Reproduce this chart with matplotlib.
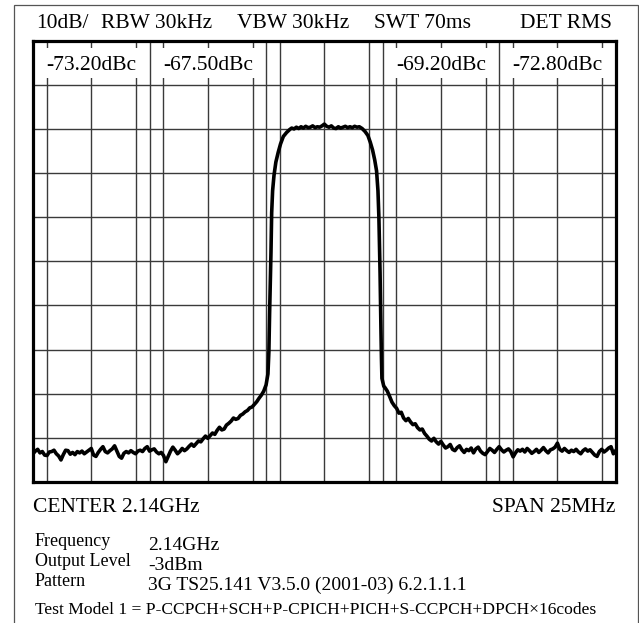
import matplotlib.pyplot as plt
from matplotlib.patches import Rectangle

W, H = 639, 623

# trace: frequency offset from 2.14 GHz (MHz) and level (dB below the top line)
freq = [-12.5, -12.4, -12.3, -12.2, -12.1, -12.0, -11.9, -11.8, -11.7, -11.6,
        -11.5, -11.4, -11.3, -11.2, -11.1, -11.0, -10.9, -10.8, -10.7, -10.6,
        -10.5, -10.4, -10.3, -10.2, -10.1, -10.0, -9.9, -9.8, -9.7, -9.6,
        -9.5, -9.4, -9.3, -9.2, -9.1, -9.0, -8.9, -8.8, -8.7, -8.6,
        -8.5, -8.4, -8.3, -8.2, -8.1, -8.0, -7.9, -7.8, -7.7, -7.6,
        -7.5, -7.4, -7.3, -7.2, -7.1, -7.0, -6.9, -6.8, -6.7, -6.6,
        -6.5, -6.4, -6.3, -6.2, -6.1, -6.0, -5.9, -5.8, -5.7, -5.6,
        -5.5, -5.4, -5.3, -5.2, -5.1, -5.0, -4.9, -4.8, -4.7, -4.6,
        -4.5, -4.4, -4.3, -4.2, -4.1, -4.0, -3.9, -3.8, -3.7, -3.6,
        -3.5, -3.4, -3.3, -3.2, -3.1, -3.0, -2.9, -2.8, -2.7, -2.6,
        -2.5, -2.42, -2.38, -2.35, -2.32, -2.29, -2.26, -2.22, -2.16, -2.08,
        -1.98, -1.88, -1.76, -1.62, -1.48, -1.4, -1.3, -1.2, -1.1, -1.0,
        -0.9, -0.8, -0.7, -0.6, -0.5, -0.4, -0.3, -0.2, -0.1, 0.0,
        0.1, 0.2, 0.3, 0.4, 0.5, 0.6, 0.7, 0.8, 0.9, 1.0,
        1.1, 1.2, 1.3, 1.4, 1.5, 1.62, 1.75, 1.87, 1.97, 2.07,
        2.16, 2.24, 2.3, 2.34, 2.37, 2.39, 2.41, 2.43, 2.45, 2.47,
        2.55, 2.6, 2.7, 2.8, 2.9, 3.0, 3.1, 3.2, 3.3, 3.4,
        3.5, 3.6, 3.7, 3.8, 3.9, 4.0, 4.1, 4.2, 4.3, 4.4,
        4.5, 4.6, 4.7, 4.8, 4.9, 5.0, 5.1, 5.2, 5.3, 5.4,
        5.5, 5.6, 5.7, 5.8, 5.9, 6.0, 6.1, 6.2, 6.3, 6.4,
        6.5, 6.6, 6.7, 6.8, 6.9, 7.0, 7.1, 7.2, 7.3, 7.4,
        7.5, 7.6, 7.7, 7.8, 7.9, 8.0, 8.1, 8.2, 8.3, 8.4,
        8.5, 8.6, 8.7, 8.8, 8.9, 9.0, 9.1, 9.2, 9.3, 9.4,
        9.5, 9.6, 9.7, 9.8, 9.9, 10.0, 10.1, 10.2, 10.3, 10.4,
        10.5, 10.6, 10.7, 10.8, 10.9, 11.0, 11.1, 11.2, 11.3, 11.4,
        11.5, 11.6, 11.7, 11.8, 11.9, 12.0, 12.1, 12.2, 12.3, 12.4,
        12.5]
level = [-93.6, -93.0, -92.6, -93.4, -93.1, -93.9, -94.0, -93.2, -93.1, -92.8,
         -93.6, -94.1, -95.0, -93.8, -92.8, -92.9, -93.7, -93.3, -93.8, -93.1,
         -93.4, -93.0, -93.6, -93.2, -92.8, -92.4, -93.9, -94.2, -93.3, -92.6,
         -92.0, -93.1, -93.4, -92.9, -92.5, -91.8, -93.0, -94.2, -94.6, -93.5,
         -93.1, -93.4, -92.9, -93.3, -93.6, -93.0, -92.8, -93.1, -92.4, -92.0,
         -93.0, -92.7, -92.5, -93.2, -93.6, -93.3, -94.0, -95.4, -94.2, -93.0,
         -92.1, -92.8, -93.6, -93.1, -92.4, -92.9, -92.5, -91.9, -91.4, -91.9,
         -91.3, -90.7, -90.9, -90.2, -89.6, -90.1, -89.5, -88.9, -89.2, -88.3,
         -87.6, -88.2, -88.0, -87.1, -86.7, -86.2, -85.5, -85.8, -85.6, -84.9,
         -84.6, -84.1, -83.8, -83.2, -83.0, -82.4, -81.8, -81.0, -80.3, -79.4,
         -78.0, -75.5, -70.5, -62.0, -55.0, -48.0, -39.0, -34.0, -30.5, -27.5,
         -25.3, -23.4, -21.7, -20.8, -20.1, -19.8, -20.0, -19.6, -19.9, -19.5,
         -19.8, -19.4, -19.7, -19.6, -19.3, -19.7, -19.5, -19.6, -19.3, -18.9,
         -19.4, -19.6, -19.3, -19.8, -19.9, -19.5, -19.8, -19.6, -19.4, -19.7,
         -19.5, -19.7, -19.4, -19.6, -19.5, -19.9, -20.6, -21.5, -23.0, -24.8,
         -27.0, -29.5, -34.0, -40.0, -47.0, -52.5, -60.0, -66.0, -72.0, -76.5,
         -78.3, -78.6, -79.4, -80.6, -81.9, -82.7, -83.3, -84.4, -84.2, -85.5,
         -86.1, -85.6, -86.4, -87.0, -86.8, -87.7, -88.2, -88.0, -89.0, -89.6,
         -90.3, -90.7, -90.1, -90.9, -91.4, -90.8, -91.6, -92.3, -92.0, -91.5,
         -92.6, -92.9, -92.2, -91.8, -92.7, -93.3, -92.6, -92.9, -92.3, -93.4,
         -92.5, -92.1, -93.0, -93.5, -93.8, -93.1, -92.4, -92.8, -93.3, -92.6,
         -92.0, -92.7, -93.2, -92.8, -92.5, -93.1, -94.3, -93.4, -92.7, -93.0,
         -92.6, -93.2, -92.4, -92.9, -93.5, -93.1, -92.6, -93.3, -92.8, -92.2,
         -92.9, -93.4, -92.7, -92.5, -92.1, -91.2, -92.6, -93.0, -92.4, -92.9,
         -93.3, -92.8, -93.1, -92.6, -93.2, -93.6, -92.9, -92.5, -93.0, -92.7,
         -93.3, -93.9, -94.2, -93.1, -92.6, -93.2, -92.8, -92.3, -92.0, -93.6,
         -92.9]

# adjacent / alternate channel measurements
ch_center = [-10, -5, 5, 10]
ch_aclr = ['-73.20dBc', '-67.50dBc', '-69.20dBc', '-72.80dBc']
ch_half = 1.92   # 3.84 MHz channel bandwidth

header = ['10dB/', 'RBW 30kHz', 'VBW 30kHz', 'SWT 70ms', 'DET RMS']
info_names = ['Frequency', 'Output Level', 'Pattern']
info_values = ['2.14GHz', '-3dBm', '3G TS25.141 V3.5.0 (2001-03) 6.2.1.1.1']
footnote = 'Test Model 1 = P-CCPCH+SCH+P-CPICH+PICH+S-CCPCH+DPCH\u00d716codes'

plt.rcParams['font.family'] = ['Liberation Serif', 'DejaVu Serif']

fig = plt.figure(figsize=(W / 100, H / 100), dpi=100)


def fx(px):
    return px / W


def fy(py):
    return 1 - py / H


# outer frame
fig.patches.append(Rectangle((fx(14), fy(640)), fx(637.5) - fx(14), fy(5) - fy(640),
                             transform=fig.transFigure, fill=False, ec='#555555', lw=0.9))

ax = fig.add_axes([fx(33), fy(482), fx(615.7) - fx(33), fy(40.7) - fy(482)])
ax.set_xlim(-12.5, 12.5)
ax.set_ylim(-100, 0)
ax.set_xticks([])
ax.set_yticks([])
for s in ax.spines.values():
    s.set_linewidth(2.3)
    s.set_color('black')
    s.set_zorder(10)

grid_c = '#3a3a3a'
for i in range(1, 10):
    ax.axvline(-12.5 + 2.5 * i, color=grid_c, lw=1.0, zorder=1)
    ax.axhline(-10 * i, color=grid_c, lw=1.0, zorder=1)
for c in ch_center + [0]:
    ax.axvline(c - ch_half, color=grid_c, lw=1.0, zorder=1)
    ax.axvline(c + ch_half, color=grid_c, lw=1.0, zorder=1)

# label boxes over the channel grid lines
for c, t in zip(ch_center, ch_aclr):
    ax.add_patch(Rectangle((c - ch_half - 0.1, -8.5), 2 * ch_half + 0.2, 6.8,
                           fc='white', ec='none', zorder=2))
    ax.text(c, -5.7, t, ha='center', va='center', fontsize=15.5, zorder=3)

ax.plot(freq, level, color='black', lw=2.6, zorder=5, solid_joinstyle='round')

# header line
fig.text(fx(36), fy(24), header[0], ha='left', va='center', fontsize=15.5)
fig.text(fx(101), fy(24), header[1], ha='left', va='center', fontsize=15.5)
fig.text(fx(237), fy(24), header[2], ha='left', va='center', fontsize=15.5)
fig.text(fx(374), fy(24), header[3], ha='left', va='center', fontsize=15.5)
fig.text(fx(612), fy(24), header[4], ha='right', va='center', fontsize=15.5)

fig.text(fx(33), fy(508), 'CENTER 2.14GHz', ha='left', va='center', fontsize=15.5)
fig.text(fx(615), fy(508), 'SPAN 25MHz', ha='right', va='center', fontsize=15.5)

for i, (n, v) in enumerate(zip(info_names, info_values)):
    y = 542 + 20 * i
    fig.text(fx(35), fy(y), n, ha='left', va='center', fontsize=13)
    fig.text(fx(148), fy(y + 3), v, ha='left', va='center', fontsize=14)
fig.text(fx(35), fy(610), footnote, ha='left', va='center', fontsize=12.6)

fig.savefig('out.png', dpi=100)
